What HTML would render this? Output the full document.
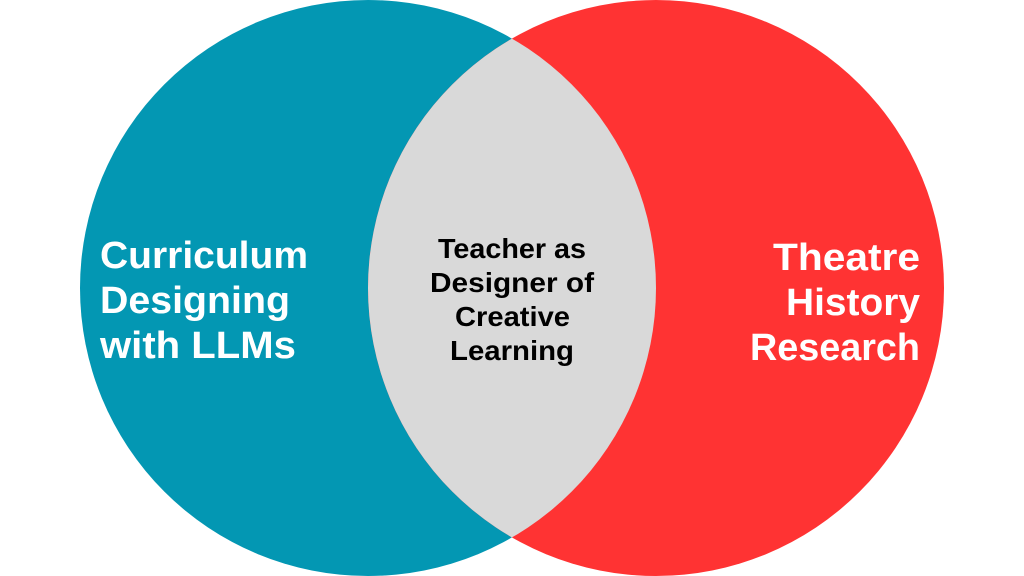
<!DOCTYPE html>
<html><head><meta charset="utf-8"><style>
html,body{margin:0;padding:0;background:#fff;width:1024px;height:576px;overflow:hidden}
svg text{font-family:"Liberation Sans",sans-serif;font-weight:bold}
</style></head><body>
<svg width="1024" height="576" viewBox="0 0 1024 576">
<defs><clipPath id="c"><circle cx="368" cy="288" r="288"/></clipPath></defs>
<circle cx="368" cy="288" r="288" fill="#0397B3"/>
<circle cx="656" cy="288" r="288" fill="#FF3333"/>
<circle cx="656" cy="288" r="288" fill="#D9D9D9" clip-path="url(#c)"/>
<g fill="#fff" font-size="38">
<text x="100" y="268" textLength="208" lengthAdjust="spacingAndGlyphs">Curriculum</text>
<text x="100" y="313" textLength="190" lengthAdjust="spacingAndGlyphs">Designing</text>
<text x="100" y="358" textLength="196" lengthAdjust="spacingAndGlyphs">with LLMs</text>
<text x="773" y="270" textLength="147" lengthAdjust="spacingAndGlyphs">Theatre</text>
<text x="786" y="315" textLength="134" lengthAdjust="spacingAndGlyphs">History</text>
<text x="750" y="360" textLength="170" lengthAdjust="spacingAndGlyphs">Research</text>
</g>
<g fill="#000" font-size="28">
<text x="438" y="258" textLength="148" lengthAdjust="spacingAndGlyphs">Teacher as</text>
<text x="430" y="292" textLength="164" lengthAdjust="spacingAndGlyphs">Designer of</text>
<text x="455" y="326" textLength="115" lengthAdjust="spacingAndGlyphs">Creative</text>
<text x="450" y="360" textLength="124" lengthAdjust="spacingAndGlyphs">Learning</text>
</g>
</svg>
</body></html>
